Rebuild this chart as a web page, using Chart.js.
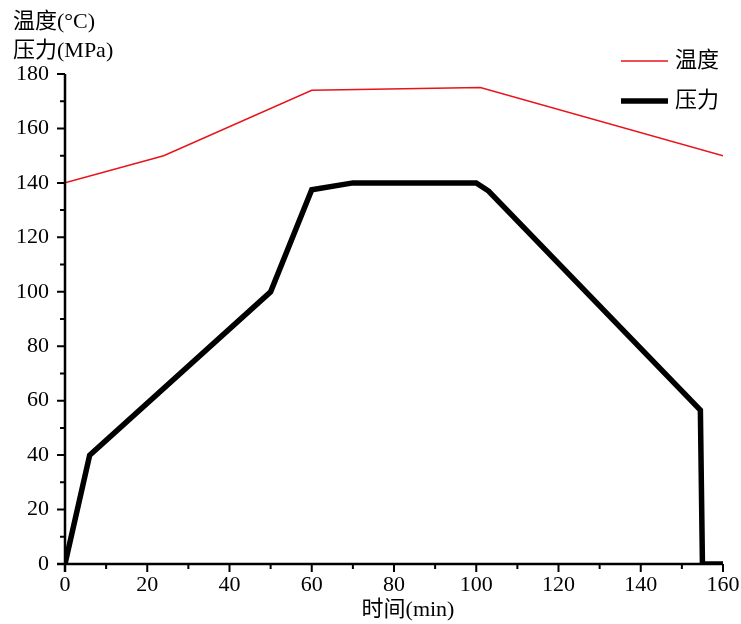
<!DOCTYPE html>
<html>
<head>
<meta charset="utf-8">
<script src="https://cdn.jsdelivr.net/npm/chart.js@4/dist/chart.umd.min.js"></script>
<style>
html,body{margin:0;padding:0;background:#fff;}
#wrap{width:741px;height:624px;position:relative;}
</style>
</head>
<body>
<div id="wrap"><canvas id="c" width="741" height="624"></canvas></div>
<script>
const seriesNames = ['温度', '压力'];
const tempTime = [0, 24, 60, 101, 160];
const tempValues = [140, 150, 174, 175, 150];
const pressTime = [0, 6, 50, 60, 70, 100, 103, 154.5, 155, 160];
const pressValues = [0, 40, 100, 137.5, 140, 140, 137, 56.5, 0, 0];
const xTicks = [0, 20, 40, 60, 80, 100, 120, 140, 160];
const yTicks = [0, 20, 40, 60, 80, 100, 120, 140, 160, 180];
const yTitleLines = ['温度(°C)', '压力(MPa)'];
const xTitle = '时间(min)';

const FONT = '"Liberation Serif", "Noto Sans CJK SC", serif';

const toPts = (xs, ys) => xs.map((x, i) => ({x: x, y: ys[i]}));

const decor = {
  id: 'decor',
  afterDraw(chart) {
    const ctx = chart.ctx;
    const xs = chart.scales.x, ys = chart.scales.y;
    const axY = ys.getPixelForValue(0);
    const axX = xs.getPixelForValue(0);
    ctx.save();
    ctx.strokeStyle = '#000';
    ctx.lineWidth = 2.5;
    ctx.beginPath();
    ctx.moveTo(axX - 8, axY); ctx.lineTo(xs.right, axY);
    ctx.moveTo(axX, axY + 8); ctx.lineTo(axX, ys.top);
    ctx.stroke();
    ctx.lineWidth = 2;
    ctx.beginPath();
    for (let v = 0; v <= 160; v += 10) {
      const p = xs.getPixelForValue(v);
      const len = (v % 20 === 0) ? 8 : 5;
      ctx.moveTo(p, axY); ctx.lineTo(p, axY + len);
    }
    for (let v = 0; v <= 180; v += 10) {
      const p = ys.getPixelForValue(v);
      const len = (v % 20 === 0) ? 8 : 5;
      ctx.moveTo(axX, p); ctx.lineTo(axX - len, p);
    }
    ctx.stroke();
    ctx.fillStyle = '#000';
    ctx.font = '22px ' + FONT;
    ctx.textBaseline = 'middle';
    ctx.textAlign = 'left';
    ctx.fillText(yTitleLines[0], 13, 22);
    ctx.fillText(yTitleLines[1], 13, 51);
    ctx.textAlign = 'center';
    ctx.fillText(xTitle, 408, 610);
    const ds = chart.data.datasets;
    const ly = [61, 101];
    ds.forEach((d, i) => {
      ctx.strokeStyle = d.borderColor;
      ctx.lineWidth = d.borderWidth;
      ctx.beginPath();
      ctx.moveTo(621, ly[i]); ctx.lineTo(668, ly[i]);
      ctx.stroke();
      ctx.fillStyle = '#000';
      ctx.textAlign = 'left';
      ctx.font = '22px ' + FONT;
      ctx.fillText(d.label, 675, ly[i]);
    });
    ctx.restore();
  }
};

new Chart(document.getElementById('c'), {
  type: 'line',
  data: {
    datasets: [
      {label: seriesNames[0], data: toPts(tempTime, tempValues), borderColor: '#e8141b', borderWidth: 1.5, pointRadius: 0, fill: false, tension: 0},
      {label: seriesNames[1], data: toPts(pressTime, pressValues), borderColor: '#000000', borderWidth: 5.5, pointRadius: 0, fill: false, tension: 0, borderJoinStyle: 'miter', borderCapStyle: 'butt'}
    ]
  },
  options: {
    responsive: false,
    animation: false,
    layout: {padding: {left: 0, right: 18, top: 74, bottom: 0}},
    plugins: {legend: {display: false}, tooltip: {enabled: false}},
    scales: {
      x: {
        type: 'linear', min: 0, max: 160,
        afterFit(s) { s.height = 60; s.paddingRight = 0; s.paddingLeft = 0; },
        afterBuildTicks(s) { s.ticks = xTicks.map(v => ({value: v})); },
        grid: {display: false, drawTicks: false},
        border: {display: false},
        ticks: {color: '#000', font: {family: FONT, size: 22}, padding: 8, maxRotation: 0, autoSkip: false}
      },
      y: {
        type: 'linear', min: 0, max: 180,
        afterFit(s) { s.width = 65; s.paddingTop = 0; s.paddingBottom = 0; },
        afterBuildTicks(s) { s.ticks = yTicks.map(v => ({value: v})); },
        grid: {display: false, drawTicks: false},
        border: {display: false},
        ticks: {color: '#000', font: {family: FONT, size: 22}, padding: 16, autoSkip: false}
      }
    }
  },
  plugins: [decor]
});
</script>
</body>
</html>
